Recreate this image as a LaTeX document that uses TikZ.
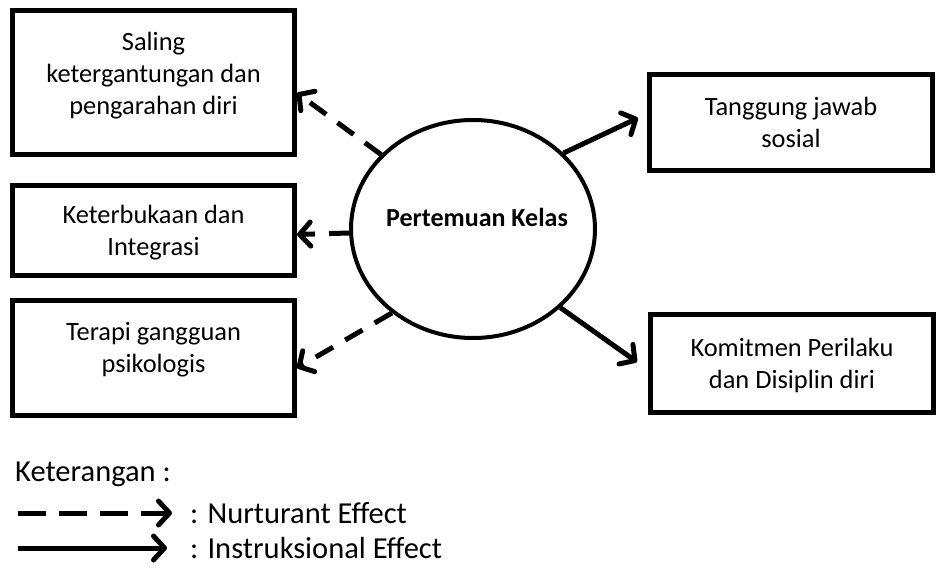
\documentclass[tikz,border=0pt]{standalone}
\usepackage{fontspec}
\setmainfont{Carlito}
\usetikzlibrary{arrows.meta,shapes.geometric}
\begin{document}
\begin{tikzpicture}[x=1pt,y=-1pt,
  box/.style={draw, line width=5pt, inner sep=0pt},
  boxtext/.style={align=center, inner sep=0pt, font=\fontsize{26.4}{32}\selectfont},
  hub/.style={draw, ellipse, line width=4pt, inner sep=0pt,
    minimum width=244pt, minimum height=218pt},
  legtext/.style={anchor=west, inner sep=0pt, font=\fontsize{30.5}{36}\selectfont},
  tip/.style={-{Straight Barb[length=11pt,width=24pt,round]}, line width=5pt},
  nurt/.style={tip, dash pattern=on 20pt off 14pt},
  instr/.style={tip},
]
\useasboundingbox (0,0) rectangle (939,572);

% left column of boxes
\node[box, minimum width=282pt, minimum height=144pt] (b1) at (153.5,82.5) {};
\node[boxtext] (t1) at (153.5,76) {Saling\\ketergantungan dan\\pengarahan diri};
\node[box, minimum width=282pt, minimum height=90pt] (b2) at (153.5,230.5) {};
\node[boxtext] (t2) at (153.5,233) {Keterbukaan dan\\Integrasi};
\node[box, minimum width=282pt, minimum height=115pt] (b3) at (153.5,358) {};
\node[boxtext] (t3) at (153.5,350) {Terapi gangguan\\psikologis};

% right column of boxes
\node[box, minimum width=283pt, minimum height=96pt] (b4) at (791,122.5) {};
\node[boxtext] (t4) at (791,122.5) {Tanggung jawab\\sosial};
\node[box, minimum width=283pt, minimum height=98pt] (b5) at (792,363.5) {};
\node[boxtext] (t5) at (792,365) {Komitmen Perilaku\\dan Disiplin diri};

% central ellipse
\node[hub] (hub) at (473,229) {};
\node[font=\fontsize{26}{30}\bfseries\selectfont, inner sep=0pt] (ht) at (477,217) {Pertemuan Kelas};

% connectors
\draw[nurt] (hub.141) -- ([yshift=-10.5pt]b1.east);
\draw[nurt] ([yshift=-4pt]hub.west) -- ([yshift=-4pt]b2.east);
\draw[nurt] (hub.226) -- ([yshift=-10pt]b3.east);
\draw[instr] (hub.40) -- ([xshift=-9pt,yshift=4.5pt]b4.west);
\draw[instr] (hub.318) -- ([xshift=-11pt,yshift=1.5pt]b5.west);

% legend
\node[legtext] (lk) at (15,474) {Keterangan :};
\coordinate (ln1) at (18,513);
\coordinate (ln2) at (172,513);
\coordinate (li1) at (18,548);
\coordinate (li2) at (167,548);
\draw[tip, dash pattern=on 28pt off 13pt] (ln1) -- (ln2);
\draw[instr] (li1) -- (li2);
\node[legtext] (lnt) at (190,513) {: Nurturant Effect};
\node[legtext] (lit) at (190,548) {: Instruksional Effect};
\end{tikzpicture}
\end{document}
